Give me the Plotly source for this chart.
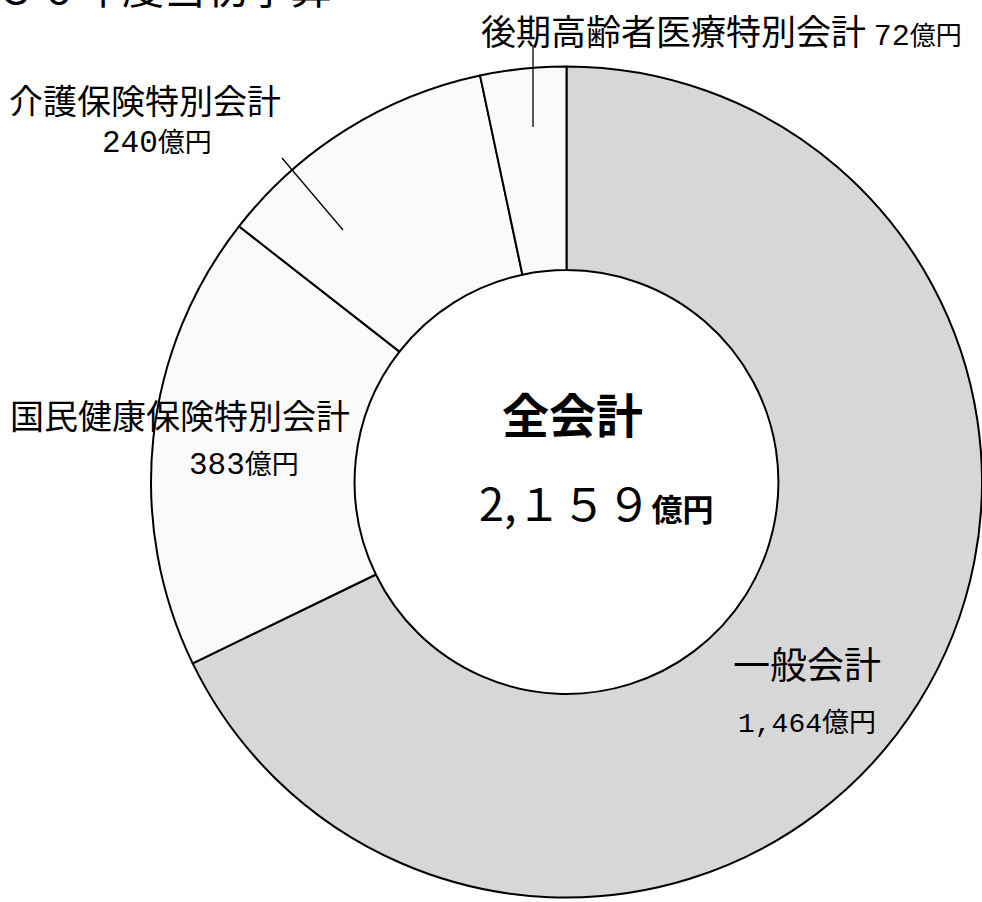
import plotly.graph_objects as go

# Budget by account (億円)
accounts = ["一般会計", "国民健康保険特別会計", "介護保険特別会計", "後期高齢者医療特別会計"]
amounts = [1464, 383, 240, 72]
total_label = "2,１５９"
title_text = "平成３０年度当初予算"

slice_colors = ["#d7d7d7", "#fafafa", "#fafafa", "#fafafa"]

W, H = 982, 902
FONT = "Noto Sans CJK JP"
NUM_FONT = "Liberation Mono"


def pos(x, y):
    """pixel position (from top-left) -> paper coordinates"""
    return x / W, 1 - y / H


# donut placement (pixels)
cx, cy, r = 566.5, 482, 415.5
x0, y0 = pos(cx - r, cy + r)
x1, y1 = pos(cx + r, cy - r)

fig = go.Figure()
fig.add_trace(go.Pie(
    labels=accounts,
    values=amounts,
    sort=False,
    direction="clockwise",
    rotation=0,
    hole=0.51,
    marker=dict(colors=slice_colors, line=dict(color="#000000", width=2)),
    textinfo="none",
    hoverinfo="label+value",
    showlegend=False,
    domain=dict(x=[max(x0, 0), min(x1, 1)], y=[max(y0, 0), min(y1, 1)]),
))


def label(text, x, y, size, anchor="center", bold=False):
    ax, ay = pos(x, y)
    fig.add_annotation(
        text=f"<b>{text}</b>" if bold else text,
        x=ax, y=ay, xref="paper", yref="paper",
        xanchor=anchor, yanchor="middle",
        showarrow=False,
        font=dict(family=FONT, size=size, color="#000000"),
    )


def amount_text(v, num_size, unit_size):
    return (f"<span style='font-family:{NUM_FONT};font-size:{num_size}px'>{v:,}</span>"
            f"<span style='font-size:{unit_size}px'>億円</span>")


# title (runs off the top edge)
label(title_text, 334, -14, 42, anchor="right")

# slice labels
label(f"{accounts[3]} " + amount_text(amounts[3], 30, 26), 479, 30, 35, anchor="left")
label(accounts[2], 145, 100, 34)
label(amount_text(amounts[2], 31, 27), 157, 141, 31)
label(accounts[1], 180, 414, 34)
label(amount_text(amounts[1], 31, 27), 244, 463, 31)
label(accounts[0], 807, 663, 37)
label(amount_text(amounts[0], 28, 27), 807, 720, 28)

# centre total
label("全会計", 572, 412, 47, bold=True)
label(f"{total_label}<span style='font-size:31px'><b>億円</b></span>", 596, 501, 45)

# leader lines
leaders = [((533, 45), (533, 127)), ((282, 158), (343, 230))]
for (ax0, ay0), (ax1, ay1) in leaders:
    p0, p1 = pos(ax0, ay0), pos(ax1, ay1)
    fig.add_shape(type="line", xref="paper", yref="paper",
                  x0=p0[0], y0=p0[1], x1=p1[0], y1=p1[1],
                  line=dict(color="#000000", width=1.3))

fig.update_layout(
    width=W, height=H,
    margin=dict(l=0, r=0, t=0, b=0),
    paper_bgcolor="#ffffff",
    plot_bgcolor="#ffffff",
)

fig.write_html("out.html")
